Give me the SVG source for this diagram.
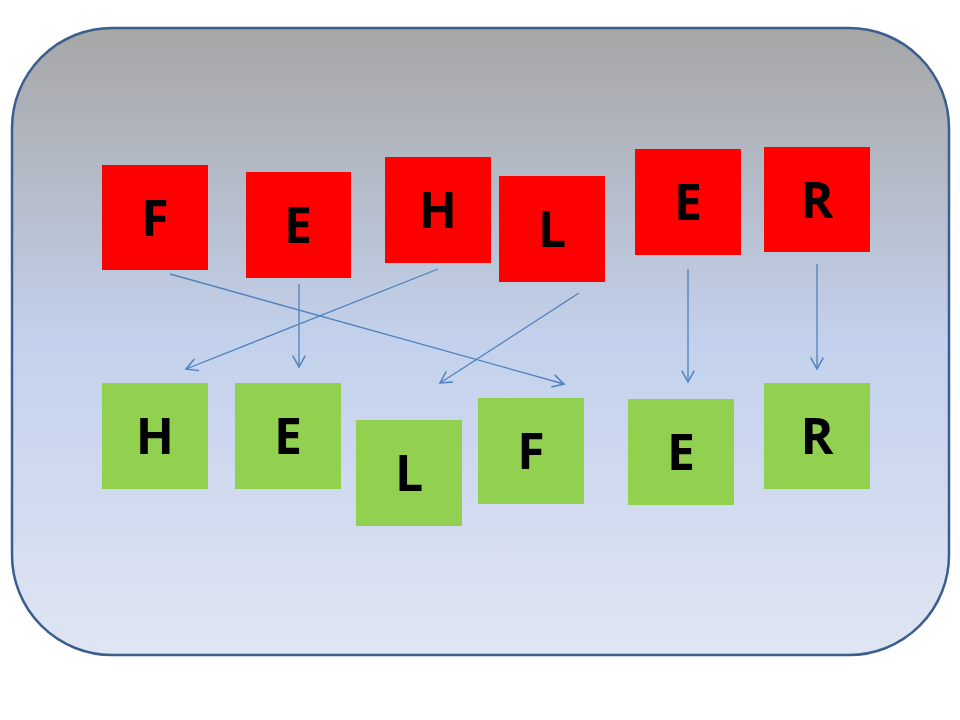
<svg xmlns="http://www.w3.org/2000/svg" width="960" height="720" viewBox="0 0 960 720">
<defs>
<linearGradient id="bg" x1="0" y1="0" x2="0" y2="1">
<stop offset="0" stop-color="#a6a6a6"/>
<stop offset="0.5" stop-color="#c3d1ec"/>
<stop offset="1" stop-color="#dfe5f3"/>
</linearGradient>
<marker id="ah" markerUnits="userSpaceOnUse" markerWidth="16" markerHeight="16" viewBox="-12 -7 14 14" refX="0" refY="0" orient="auto">
<path d="M-10,-5.5 L0,0 L-10,5.5" fill="none" stroke="#4f81bd" stroke-width="1.3"/>
</marker>
<style>
.red{fill:#ff0000}
.green{fill:#92d050}
.t{font-family:"Open Sans","Liberation Sans",sans-serif;font-weight:bold;font-size:50px;fill:#000;text-anchor:middle}
.c{stroke:#4f81bd;stroke-width:1.3;fill:none;marker-end:url(#ah)}
</style>
</defs>
<rect x="12" y="28" width="937" height="627" rx="100" ry="100" fill="url(#bg)" stroke="#3a5f8f" stroke-width="2.5"/>
<g id="connectors">
<line class="c" x1="170" y1="274" x2="564" y2="384"/>
<line class="c" x1="299" y1="284" x2="299" y2="367"/>
<line class="c" x1="438" y1="269" x2="186" y2="369"/>
<line class="c" x1="579" y1="293" x2="440" y2="383"/>
<line class="c" x1="688" y1="269" x2="688" y2="382"/>
<line class="c" x1="817" y1="264" x2="817" y2="369"/>
</g>
<g id="r-F"><rect class="red" x="102" y="165" width="106" height="105"/><text class="t" x="155" y="236">F</text></g>
<g id="r-E"><rect class="red" x="246" y="172" width="105" height="106"/><text class="t" x="298" y="243">E</text></g>
<g id="r-H"><rect class="red" x="385" y="157" width="106" height="106"/><text class="t" x="438" y="228">H</text></g>
<g id="r-L"><rect class="red" x="499" y="176" width="106" height="106"/><text class="t" x="552" y="247">L</text></g>
<g id="r-E2"><rect class="red" x="635" y="149" width="106" height="106"/><text class="t" x="688" y="220">E</text></g>
<g id="r-R"><rect class="red" x="764" y="147" width="106" height="105"/><text class="t" x="817" y="218">R</text></g>
<g id="g-H"><rect class="green" x="102" y="383" width="106" height="106"/><text class="t" x="155" y="454">H</text></g>
<g id="g-E"><rect class="green" x="235" y="383" width="106" height="106"/><text class="t" x="288" y="454">E</text></g>
<g id="g-L"><rect class="green" x="356" y="420" width="106" height="106"/><text class="t" x="409" y="491">L</text></g>
<g id="g-F"><rect class="green" x="478" y="398" width="106" height="106"/><text class="t" x="531" y="469">F</text></g>
<g id="g-E2"><rect class="green" x="628" y="399" width="106" height="106"/><text class="t" x="681" y="470">E</text></g>
<g id="g-R"><rect class="green" x="764" y="383" width="106" height="106"/><text class="t" x="817" y="454">R</text></g>
</svg>
